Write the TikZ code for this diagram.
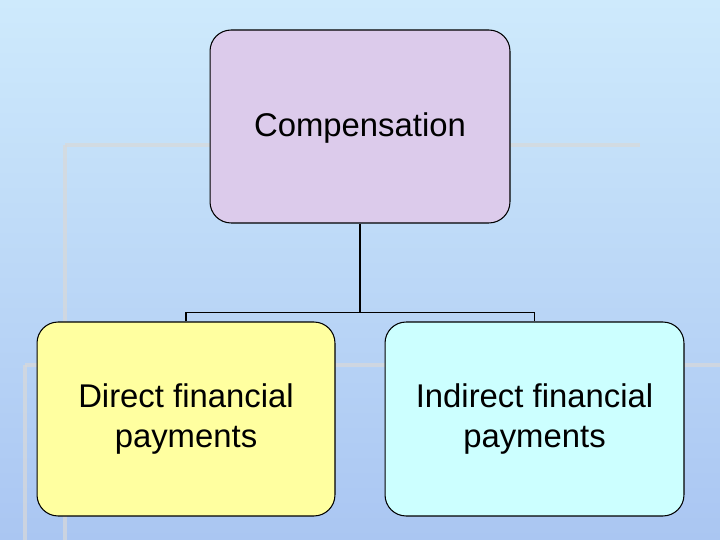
\documentclass[tikz,border=0pt]{standalone}
\usepackage{fontspec}
\setmainfont{Liberation Sans}
\begin{document}
\begin{tikzpicture}[x=0.02cm,y=-0.02cm,
  box/.style={draw=black,line width=0.6pt,rounded corners=12pt},
  lbl/.style={font=\fontsize{18.7}{23}\selectfont,align=center},
  faint/.style={draw=gray!30,line width=2pt,opacity=0.7}]
\shade[top color={rgb,255:red,206;green,234;blue,252},bottom color={rgb,255:red,170;green,198;blue,242}] (0,0) rectangle (720,540);
\useasboundingbox (0,0) rectangle (720,540);
\draw[faint] (65,145) -- (640,145);
\draw[faint] (65,145) -- (65,540);
\draw[faint] (25,365) -- (720,365);
\draw[faint] (25,365) -- (25,540);
\node[box,fill={rgb,255:red,220;green,203;blue,235},minimum width=6cm,minimum height=3.86cm] (comp) at (360,126.5) {};
\node[lbl] at (360,128) {Compensation};
\node[box,fill={rgb,255:red,255;green,255;blue,160},minimum width=5.96cm,minimum height=3.88cm] (direct) at (186,419) {};
\node[lbl] at (186,419) {Direct financial\\payments};
\node[box,fill={rgb,255:red,204;green,255;blue,255},minimum width=5.98cm,minimum height=3.88cm] (indirect) at (534.5,419) {};
\node[lbl] at (534.5,419) {Indirect financial\\payments};
\coordinate (mid) at (360,313);
\draw[line width=1.2pt] (comp.south) -- (mid);
\draw[line width=0.8pt] (direct.north) -- ++(0,-9) -| (indirect.north);
\end{tikzpicture}
\end{document}
